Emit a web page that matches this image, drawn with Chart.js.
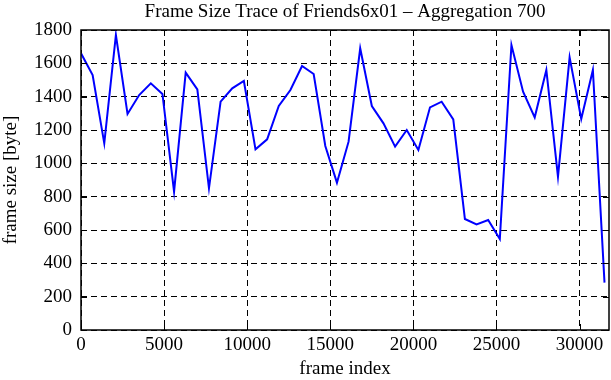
<!DOCTYPE html>
<html>
<head>
<meta charset="utf-8">
<script src="https://cdn.jsdelivr.net/npm/chart.js@4"></script>
<style>
  body { margin: 0; background: #fff; }
  #wrap { width: 611px; height: 380px; }
</style>
</head>
<body>
<div id="wrap"><canvas id="traceChart"></canvas></div>
<script>
// frame index of each aggregated point (every 700 frames)
const frames = [0, 700, 1400, 2100, 2800, 3500, 4200, 4900, 5600, 6300,
    7000, 7700, 8400, 9100, 9800, 10500, 11200, 11900, 12600, 13300,
    14000, 14700, 15400, 16100, 16800, 17500, 18200, 18900, 19600, 20300,
    21000, 21700, 22400, 23100, 23800, 24500, 25200, 25900, 26600, 27300,
    28000, 28700, 29400, 30100, 30800, 31500];

// frame size in byte
const frameSizes = [1660, 1530, 1120, 1770, 1296, 1410, 1480, 1416, 830, 1544,
    1444, 850, 1370, 1450, 1494, 1084, 1144, 1344, 1440, 1584,
    1536, 1104, 884, 1130, 1690, 1344, 1240, 1100, 1200, 1080,
    1336, 1370, 1264, 666, 634, 660, 546, 1710, 1430, 1276,
    1560, 920, 1636, 1266, 1560, 284];

const xTicks = [0, 5000, 10000, 15000, 20000, 25000, 30000];
const yTicks = [0, 200, 400, 600, 800, 1000, 1200, 1400, 1600, 1800];

const chartTitle = 'Frame Size Trace of Friends6x01 \u2013 Aggregation 700';
const serif = '"Liberation Serif", "DejaVu Serif", serif';
const fontSize = 19;

// cadre plein + petites graduations vers l'intérieur (style gnuplot), titre centré sur la zone du graphe
const framePlugin = {
    id: 'frame',
    afterDraw(chart) {
        const {ctx, chartArea: a, scales: {x, y}} = chart;
        ctx.save();
        ctx.strokeStyle = '#000';
        ctx.lineWidth = 1.5;
        ctx.setLineDash([]);
        ctx.strokeRect(a.left, a.top, a.right - a.left, a.bottom - a.top);
        ctx.lineWidth = 1;
        ctx.beginPath();
        xTicks.forEach(v => {
            const px = Math.round(x.getPixelForValue(v)) + 0.5;
            ctx.moveTo(px, a.bottom); ctx.lineTo(px, a.bottom - 6);
            ctx.moveTo(px, a.top); ctx.lineTo(px, a.top + 6);
        });
        yTicks.forEach(v => {
            const py = Math.round(y.getPixelForValue(v)) + 0.5;
            ctx.moveTo(a.left, py); ctx.lineTo(a.left + 6, py);
            ctx.moveTo(a.right, py); ctx.lineTo(a.right - 6, py);
        });
        ctx.stroke();

        ctx.fillStyle = '#000';
        ctx.font = fontSize + 'px ' + serif;
        ctx.textAlign = 'center';
        ctx.textBaseline = 'middle';
        ctx.fillText(chartTitle, (a.left + a.right) / 2, 12);
        ctx.restore();
    }
};

const ctx = document.getElementById('traceChart').getContext('2d');
new Chart(ctx, {
    type: 'line',
    data: {
        datasets: [{
            data: frames.map((f, i) => ({x: f, y: frameSizes[i]})),
            borderColor: '#0000ff',
            borderWidth: 2,
            pointRadius: 0,
            tension: 0,
            fill: false
        }]
    },
    options: {
        responsive: true,
        maintainAspectRatio: false,
        animation: false,
        layout: {padding: {left: 0, right: 2, top: 30, bottom: 0}},
        plugins: {
            legend: {display: false},
            tooltip: {enabled: false},
            title: {display: false}
        },
        scales: {
            x: {
                type: 'linear',
                min: 0,
                max: 31770,
                afterBuildTicks: s => { s.ticks = xTicks.map(v => ({value: v})); },
                afterFit: s => { s.height = 50; },
                ticks: {
                    autoSkip: false,
                    maxRotation: 0,
                    padding: 4,
                    color: '#000',
                    font: {family: serif, size: fontSize},
                    callback: v => String(v)
                },
                grid: {color: '#000', lineWidth: 1, drawTicks: false},
                border: {display: false, dash: [6, 4]},
                title: {
                    display: true,
                    text: 'frame index',
                    color: '#000',
                    font: {family: serif, size: fontSize},
                    padding: {top: 0, bottom: 0}
                }
            },
            y: {
                min: 0,
                max: 1800,
                afterBuildTicks: s => { s.ticks = yTicks.map(v => ({value: v})); },
                afterFit: s => { s.width = 81; },
                ticks: {
                    padding: 9,
                    color: '#000',
                    font: {family: serif, size: fontSize},
                    callback: v => String(v)
                },
                grid: {color: '#000', lineWidth: 1, drawTicks: false},
                border: {display: false, dash: [6, 4]},
                title: {
                    display: true,
                    text: 'frame size [byte]',
                    color: '#000',
                    font: {family: serif, size: fontSize},
                    padding: {top: 0, bottom: 2}
                }
            }
        }
    },
    plugins: [framePlugin]
});
</script>
</body>
</html>
